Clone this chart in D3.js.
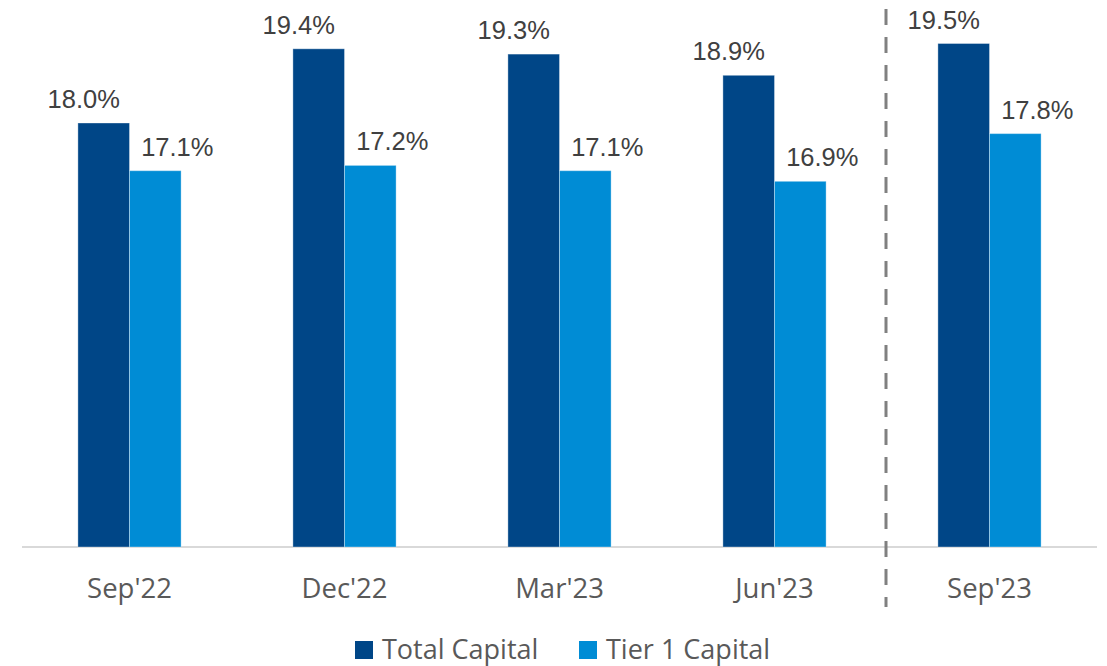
<!DOCTYPE html>
<meta charset="utf-8">
<style>
body { margin: 0; background: #fff; }
.cat text { font: 27.5px 'Open Sans', sans-serif; fill: #595959; }
.value { font: 25.5px 'Liberation Sans', Arial, sans-serif; fill: #404040; }
.legend text { font: 27px 'Open Sans', sans-serif; fill: #595959; }
</style>
<body>
<script src="https://cdnjs.cloudflare.com/ajax/libs/d3/7.8.5/d3.min.js"></script>
<script>
var categories = ["Sep'22", "Dec'22", "Mar'23", "Jun'23", "Sep'23"];
var seriesNames = ["Total Capital", "Tier 1 Capital"];
var totalCapital = [18.0, 19.4, 19.3, 18.9, 19.5];
var tier1Capital = [17.1, 17.2, 17.1, 16.9, 17.8];
var colors = ["#004687", "#008CD5"];

var width = 1107, height = 666;

var svg = d3.select("body").append("svg")
    .attr("width", width)
    .attr("height", height);

var x0 = d3.scaleBand()
    .domain(categories)
    .range([22, 1097])
    .paddingInner(0.52)
    .paddingOuter(0.26);

var x1 = d3.scaleBand()
    .domain(seriesNames)
    .range([0, x0.bandwidth()]);

var y = d3.scaleLinear().domain([10, 20]).range([547, 17]);

// labels sit off-centre like in the source deck
var labelShift = [-20, 22];

var data = categories.map(function(c, i) {
  return {cat: c, values: [
    {name: seriesNames[0], v: totalCapital[i], s: 0},
    {name: seriesNames[1], v: tier1Capital[i], s: 1}
  ]};
});

// baseline
svg.append("line")
    .attr("x1", x0.range()[0]).attr("x2", x0.range()[1])
    .attr("y1", y(10)).attr("y2", y(10))
    .attr("stroke", "#d9d9d9")
    .attr("stroke-width", 2);

var group = svg.selectAll(".grp")
  .data(data)
  .enter().append("g")
    .attr("class", "grp")
    .attr("transform", function(d) { return "translate(" + x0(d.cat) + ",0)"; });

group.selectAll("rect")
  .data(function(d) { return d.values; })
  .enter().append("rect")
    .attr("x", function(d) { return x1(d.name); })
    .attr("width", x1.bandwidth())
    .attr("y", function(d) { return y(d.v); })
    .attr("height", function(d) { return y(10) - y(d.v); })
    .attr("fill", function(d) { return colors[d.s]; })
    .attr("stroke", "#ffffff")
    .attr("stroke-opacity", 0.35)
    .attr("stroke-width", 1);

group.selectAll(".value")
  .data(function(d) { return d.values; })
  .enter().append("text")
    .attr("class", "value")
    .attr("x", function(d) { return x1(d.name) + x1.bandwidth() / 2 + labelShift[d.s]; })
    .attr("y", function(d) { return y(d.v) - 15; })
    .attr("text-anchor", "middle")
    .text(function(d) { return d.v.toFixed(1) + "%"; });

// category axis
var axis = svg.append("g")
    .attr("class", "cat")
    .attr("transform", "translate(0," + y(10) + ")")
    .call(d3.axisBottom(x0).tickSize(0).tickPadding(0));
axis.select(".domain").remove();
axis.selectAll("text").attr("dy", null).attr("y", 51).attr("font-size", null).attr("font-family", null).attr("fill", null);

// separator between Jun'23 and Sep'23
var sepX = x0("Sep'23") - x0.step() * x0.paddingInner() / 2 + 4;
svg.append("line")
    .attr("x1", sepX).attr("x2", sepX)
    .attr("y1", 9).attr("y2", 607)
    .attr("stroke", "#808080")
    .attr("stroke-width", 3)
    .attr("stroke-dasharray", "16,12");

// legend
var legendX = [355, 579];
var legend = svg.append("g").attr("class", "legend");
var item = legend.selectAll("g")
  .data(seriesNames)
  .enter().append("g")
    .attr("transform", function(d, i) { return "translate(" + legendX[i] + ",641)"; });
item.append("rect")
    .attr("width", 18).attr("height", 18)
    .attr("fill", function(d, i) { return colors[i]; });
item.append("text")
    .attr("x", 27)
    .attr("y", 18)
    .text(function(d) { return d; });
</script>
</body>
